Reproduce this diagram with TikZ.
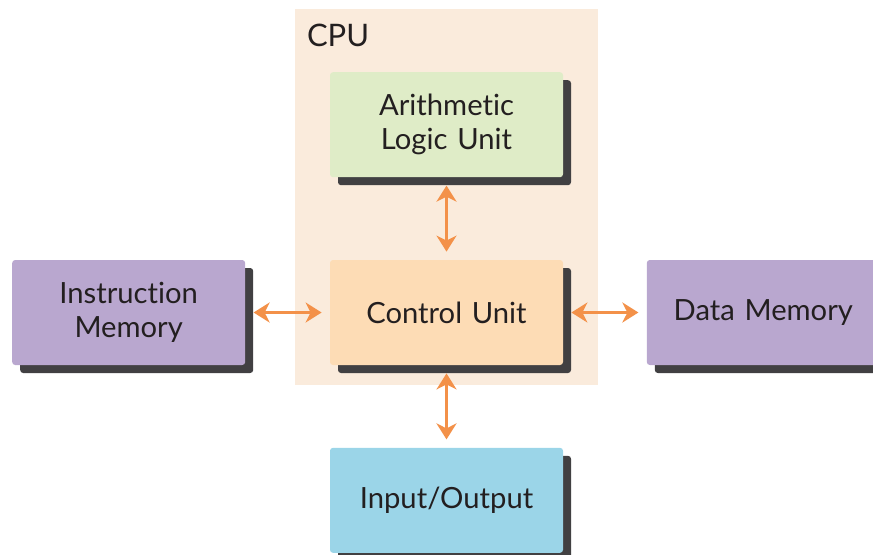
\documentclass[tikz,border=0pt]{standalone}
\usepackage{fontspec}
\setmainfont[Ligatures={NoCommon}, WordSpace={0.85}]{Lato}
\usepackage{tikz}
\usetikzlibrary{arrows.meta, positioning, shadows, backgrounds, calc}
\definecolor{cpuback}{HTML}{FAEBDC}
\definecolor{alufill}{HTML}{DFECC7}
\definecolor{cufill}{HTML}{FDDCB5}
\definecolor{memfill}{HTML}{B9A7CF}
\definecolor{iofill}{HTML}{9BD5E8}
\definecolor{shadowgray}{HTML}{414042}
\definecolor{arroworange}{HTML}{F39149}
\definecolor{textdark}{HTML}{231F20}

\begin{document}
\begin{tikzpicture}[
  node distance=41pt and 41.5pt,
  unit/.style={rectangle, rounded corners=1.5pt, minimum width=116.5pt, minimum height=52.5pt, inner xsep=4.25pt, text width=108pt, align=center, font=\fontsize{14.6}{17}\selectfont, text=textdark, drop shadow={shadow xshift=4pt, shadow yshift=-4pt, fill=shadowgray, opacity=1}},
  arrow/.style={{Stealth[length=8pt,width=10pt,inset=2.5pt]}-{Stealth[length=8pt,width=10pt,inset=2.5pt]}, line width=1.5pt, draw=arroworange, shorten >=4pt, shorten <=4pt}
]
\useasboundingbox (0,0) rectangle (436.5pt,-277pt);

\node[unit, fill=cufill] (cu) at (223.25pt,-156.25pt) {Control Unit};
\node[unit, fill=alufill, above=of cu] (alu) {Arithmetic\\Logic Unit};
\node[unit, fill=memfill, left=42pt of cu] (imem) {Instruction\\Memory};
\node[unit, fill=memfill, right=of cu] (dmem) {Data Memory};
\node[unit, fill=iofill, below=of cu] (io) {Input/Output};

\begin{scope}[on background layer]
\fill[cpuback] ($(alu.north west)+(-17.5pt,31.5pt)$) rectangle ($(cu.south east)+(17.5pt,-10pt)$);
\end{scope}
\node[anchor=north west, inner sep=0pt, text=textdark, font=\fontsize{15.5}{18}\selectfont] (cpulabel) at ($(alu.north west)+(-11.5pt,24pt)$) {CPU};

\draw[arrow] (imem.east) -- (cu.west);
\draw[arrow] (cu.east) -- (dmem.west);
\draw[arrow] (alu.south) -- (cu.north);
\draw[arrow] (cu.south) -- (io.north);

\end{tikzpicture}
\end{document}
